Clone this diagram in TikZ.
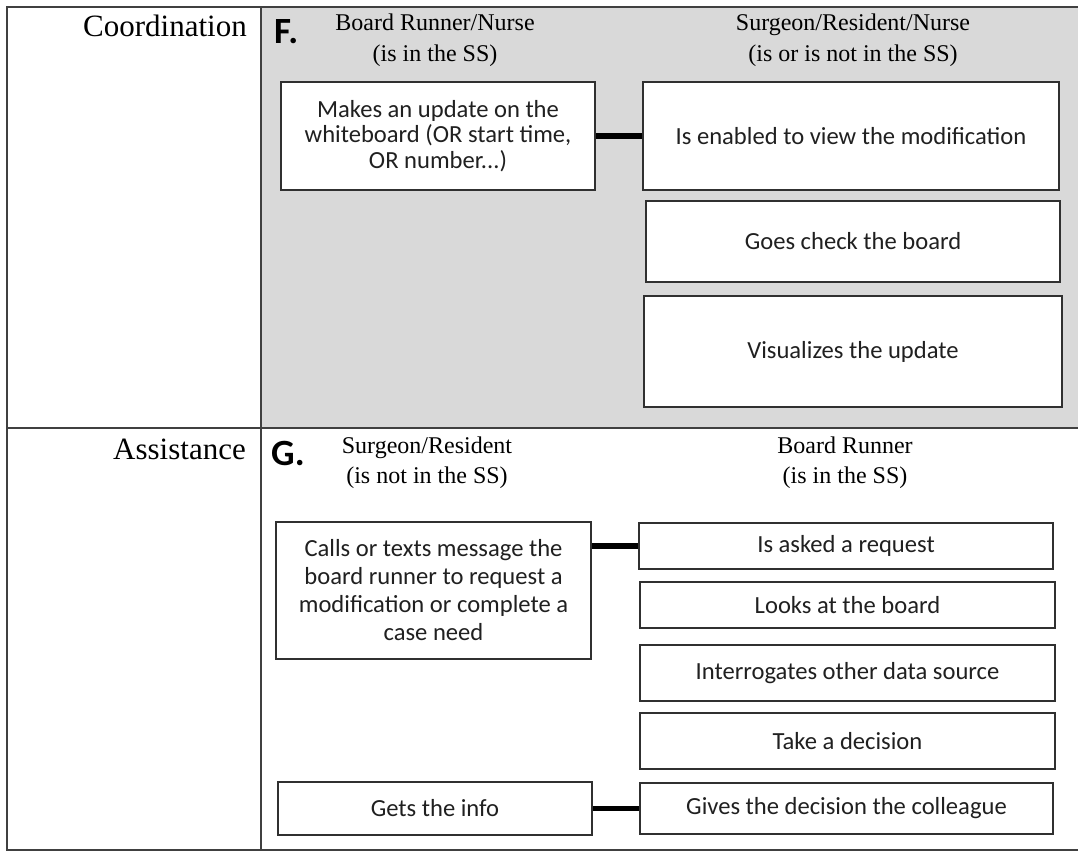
\documentclass[tikz,border=0pt]{standalone}
\usepackage{fontspec}
\setmainfont{Liberation Serif}
\newfontfamily\calfont{Carlito}
\definecolor{cellgray}{HTML}{D9D9D9}
\definecolor{rulegray}{HTML}{404040}
\definecolor{boxline}{HTML}{303030}
\definecolor{boxtext}{HTML}{202020}
\tikzset{
  box/.style={draw=boxline, line width=1.5pt, fill=white, inner sep=0pt,
    align=center, text=boxtext,
    font=\calfont\fontsize{24.6}{25.5}\selectfont},
  hdr/.style={anchor=base, inner sep=0pt, font=\fontsize{24}{24}\selectfont},
  rowlab/.style={anchor=base east, inner sep=0pt, font=\fontsize{31}{31}\selectfont},
  letter/.style={anchor=base west, inner sep=0pt, font=\calfont\bfseries\fontsize{37}{37}\selectfont},
  link/.style={line width=5.5pt, draw=black},
  tabrule/.style={draw=rulegray, line width=1.6pt}
}
\begin{document}
\begin{tikzpicture}[x=1pt,y=-1pt]
\useasboundingbox (0,0) rectangle (1078,851);
% table
\fill[cellgray] (261,7) rectangle (1078,428);
\draw[tabrule] (1078,7) -- (7,7) -- (7,850) -- (1078,850);
\draw[tabrule] (261,7) -- (261,850);
\draw[tabrule] (7,428) -- (1078,428);
% row labels
\node[rowlab] (lcoord) at (247,37) {Coordination};
\node[rowlab] (lassist) at (246,459) {Assistance};
\node[letter] (lf) at (274,44) {F.};
\node[letter] (lg) at (271,465) {G.};
% headers
\node[hdr] (h1a) at (435,31) {Board Runner/Nurse};
\node[hdr] (h1b) at (435,61) {(is in the SS)};
\node[hdr] (h2a) at (853,31) {Surgeon/Resident/Nurse};
\node[hdr] (h2b) at (853,61) {(is or is not in the SS)};
\node[hdr] (h3a) at (427,453) {Surgeon/Resident};
\node[hdr] (h3b) at (427,483) {(is not in the SS)};
\node[hdr] (h4a) at (845,453) {Board Runner};
\node[hdr] (h4b) at (845,483) {(is in the SS)};
% coordination boxes
\node[box, minimum width=314pt, minimum height=108pt] (A) at (438,136)
  {Makes an update on the\\whiteboard (OR start time,\\OR number...)};
\node[box, minimum width=416pt, minimum height=108pt] (B) at (851,136)
  {Is enabled to view the modification};
\node[box, minimum width=414pt, minimum height=81pt] (C) at (853,241.5)
  {Goes check the board};
\node[box, minimum width=418pt, minimum height=111pt] (D) at (853,351.5)
  {Visualizes the update};
% assistance boxes
\node[box, minimum width=315pt, minimum height=137pt,
  font=\calfont\fontsize{24.6}{28}\selectfont] (E) at (433.5,590.5)
  {Calls or texts message the\\board runner to request a\\modification or complete a\\case need};
\node[box, minimum width=414pt, minimum height=46pt] (F) at (846,546)
  {Is asked a request};
\node[box, minimum width=415pt, minimum height=46pt] (G) at (847.5,605)
  {Looks at the board};
\node[box, minimum width=415pt, minimum height=56pt] (H) at (847.5,673)
  {Interrogates other data source};
\node[box, minimum width=415pt, minimum height=56pt] (I) at (847.5,741)
  {Take a decision};
\node[box, minimum width=413pt, minimum height=51pt] (J) at (846.5,808.5)
  {Gives the decision the colleague};
\node[box, minimum width=314pt, minimum height=53pt] (K) at (435,808.5)
  {Gets the info};
% connectors
\draw[link] (A.east) -- (B.west);
\draw[link] (E.east |- F.west) -- (F.west);
\draw[link] (K.east) -- (J.west);
\end{tikzpicture}
\end{document}
